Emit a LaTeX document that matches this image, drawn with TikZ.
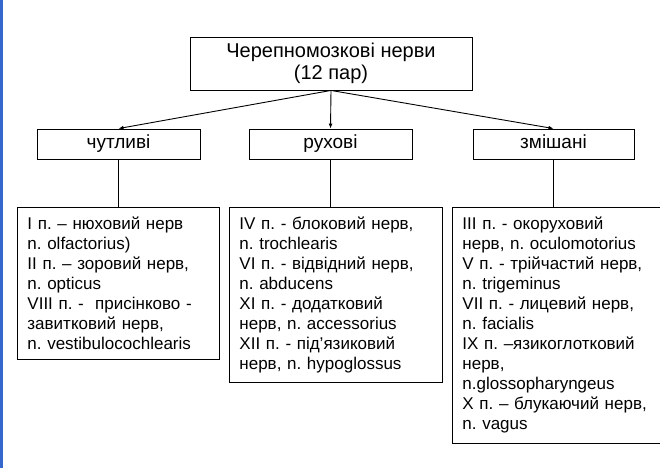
\documentclass[tikz,border=0pt]{standalone}
\usepackage{fontspec}
\setmainfont{Liberation Sans}
\usetikzlibrary{arrows.meta}
\frenchspacing
\begin{document}
\begin{tikzpicture}[x=1pt,y=-1pt,line width=0.9pt,
 headbox/.style={draw,minimum height=30pt,inner sep=0pt,text height=13pt,text depth=4pt,font=\fontsize{19}{22}\selectfont},
 listbox/.style={draw,anchor=north west,align=left,inner xsep=10pt,inner ysep=9.5pt,font=\fontsize{17}{20}\selectfont},
 link/.style={-{Latex[length=5pt,width=4pt]}}]
 \useasboundingbox (0,0) rectangle (672,468);
 \fill[fill={rgb,255:red,52;green,104;blue,204}] (0,0) rectangle (2.5,468);
 \node[draw,minimum width=282pt,minimum height=53pt,align=center,font=\fontsize{20}{22}\selectfont] (cran) at (331,63.5) {Черепномозкові нерви\\(12 пар)};
 \node[headbox,minimum width=163pt] (sens) at (118.5,144) {чутливі};
 \node[headbox,minimum width=163pt] (mot) at (330.5,144) {рухові};
 \node[headbox,minimum width=161pt] (mix) at (553.5,144) {змішані};
 \node[listbox,text width=182pt] (sensd) at (17,207) {I п. – нюховий нерв\\n. olfactorius)\\II п. – зоровий нерв,\\n. opticus\\VIII п. -~ присінково -\\завитковий нерв,\\n. vestibulocochlearis};
 \node[listbox,text width=193pt] (motd) at (229,207) {IV п. - блоковий нерв,\\n. trochlearis\\VI п. - відвідний нерв,\\n. abducens\\XI п. - додатковий\\нерв, n. accessorius\\XII п. - під'язиковий\\нерв, n. hypoglossus};
 \node[listbox,draw=none,text width=187pt] (mixd) at (452,207) {III п. - окоруховий\\нерв, n. oculomotorius\\V п. - трійчастий нерв,\\n. trigeminus\\VII п. - лицевий нерв,\\n. facialis\\IX п. –язикоглотковий\\нерв,\\n.glossopharyngeus\\X п. – блукаючий нерв,\\n. vagus};
 \draw (mixd.north east) -- (mixd.north west) -- (mixd.south west) -- (mixd.south east);
 \draw[link] (cran.south) -- (sens.north);
 \draw[link] (cran.south) -- (mot.north);
 \draw[link] (cran.south) -- (mix.north);
 \draw (sens.south) -- (sens.south |- sensd.north);
 \draw (mot.south) -- (mot.south |- motd.north);
 \draw (mix.south) -- (mix.south |- mixd.north);
\end{tikzpicture}
\end{document}
